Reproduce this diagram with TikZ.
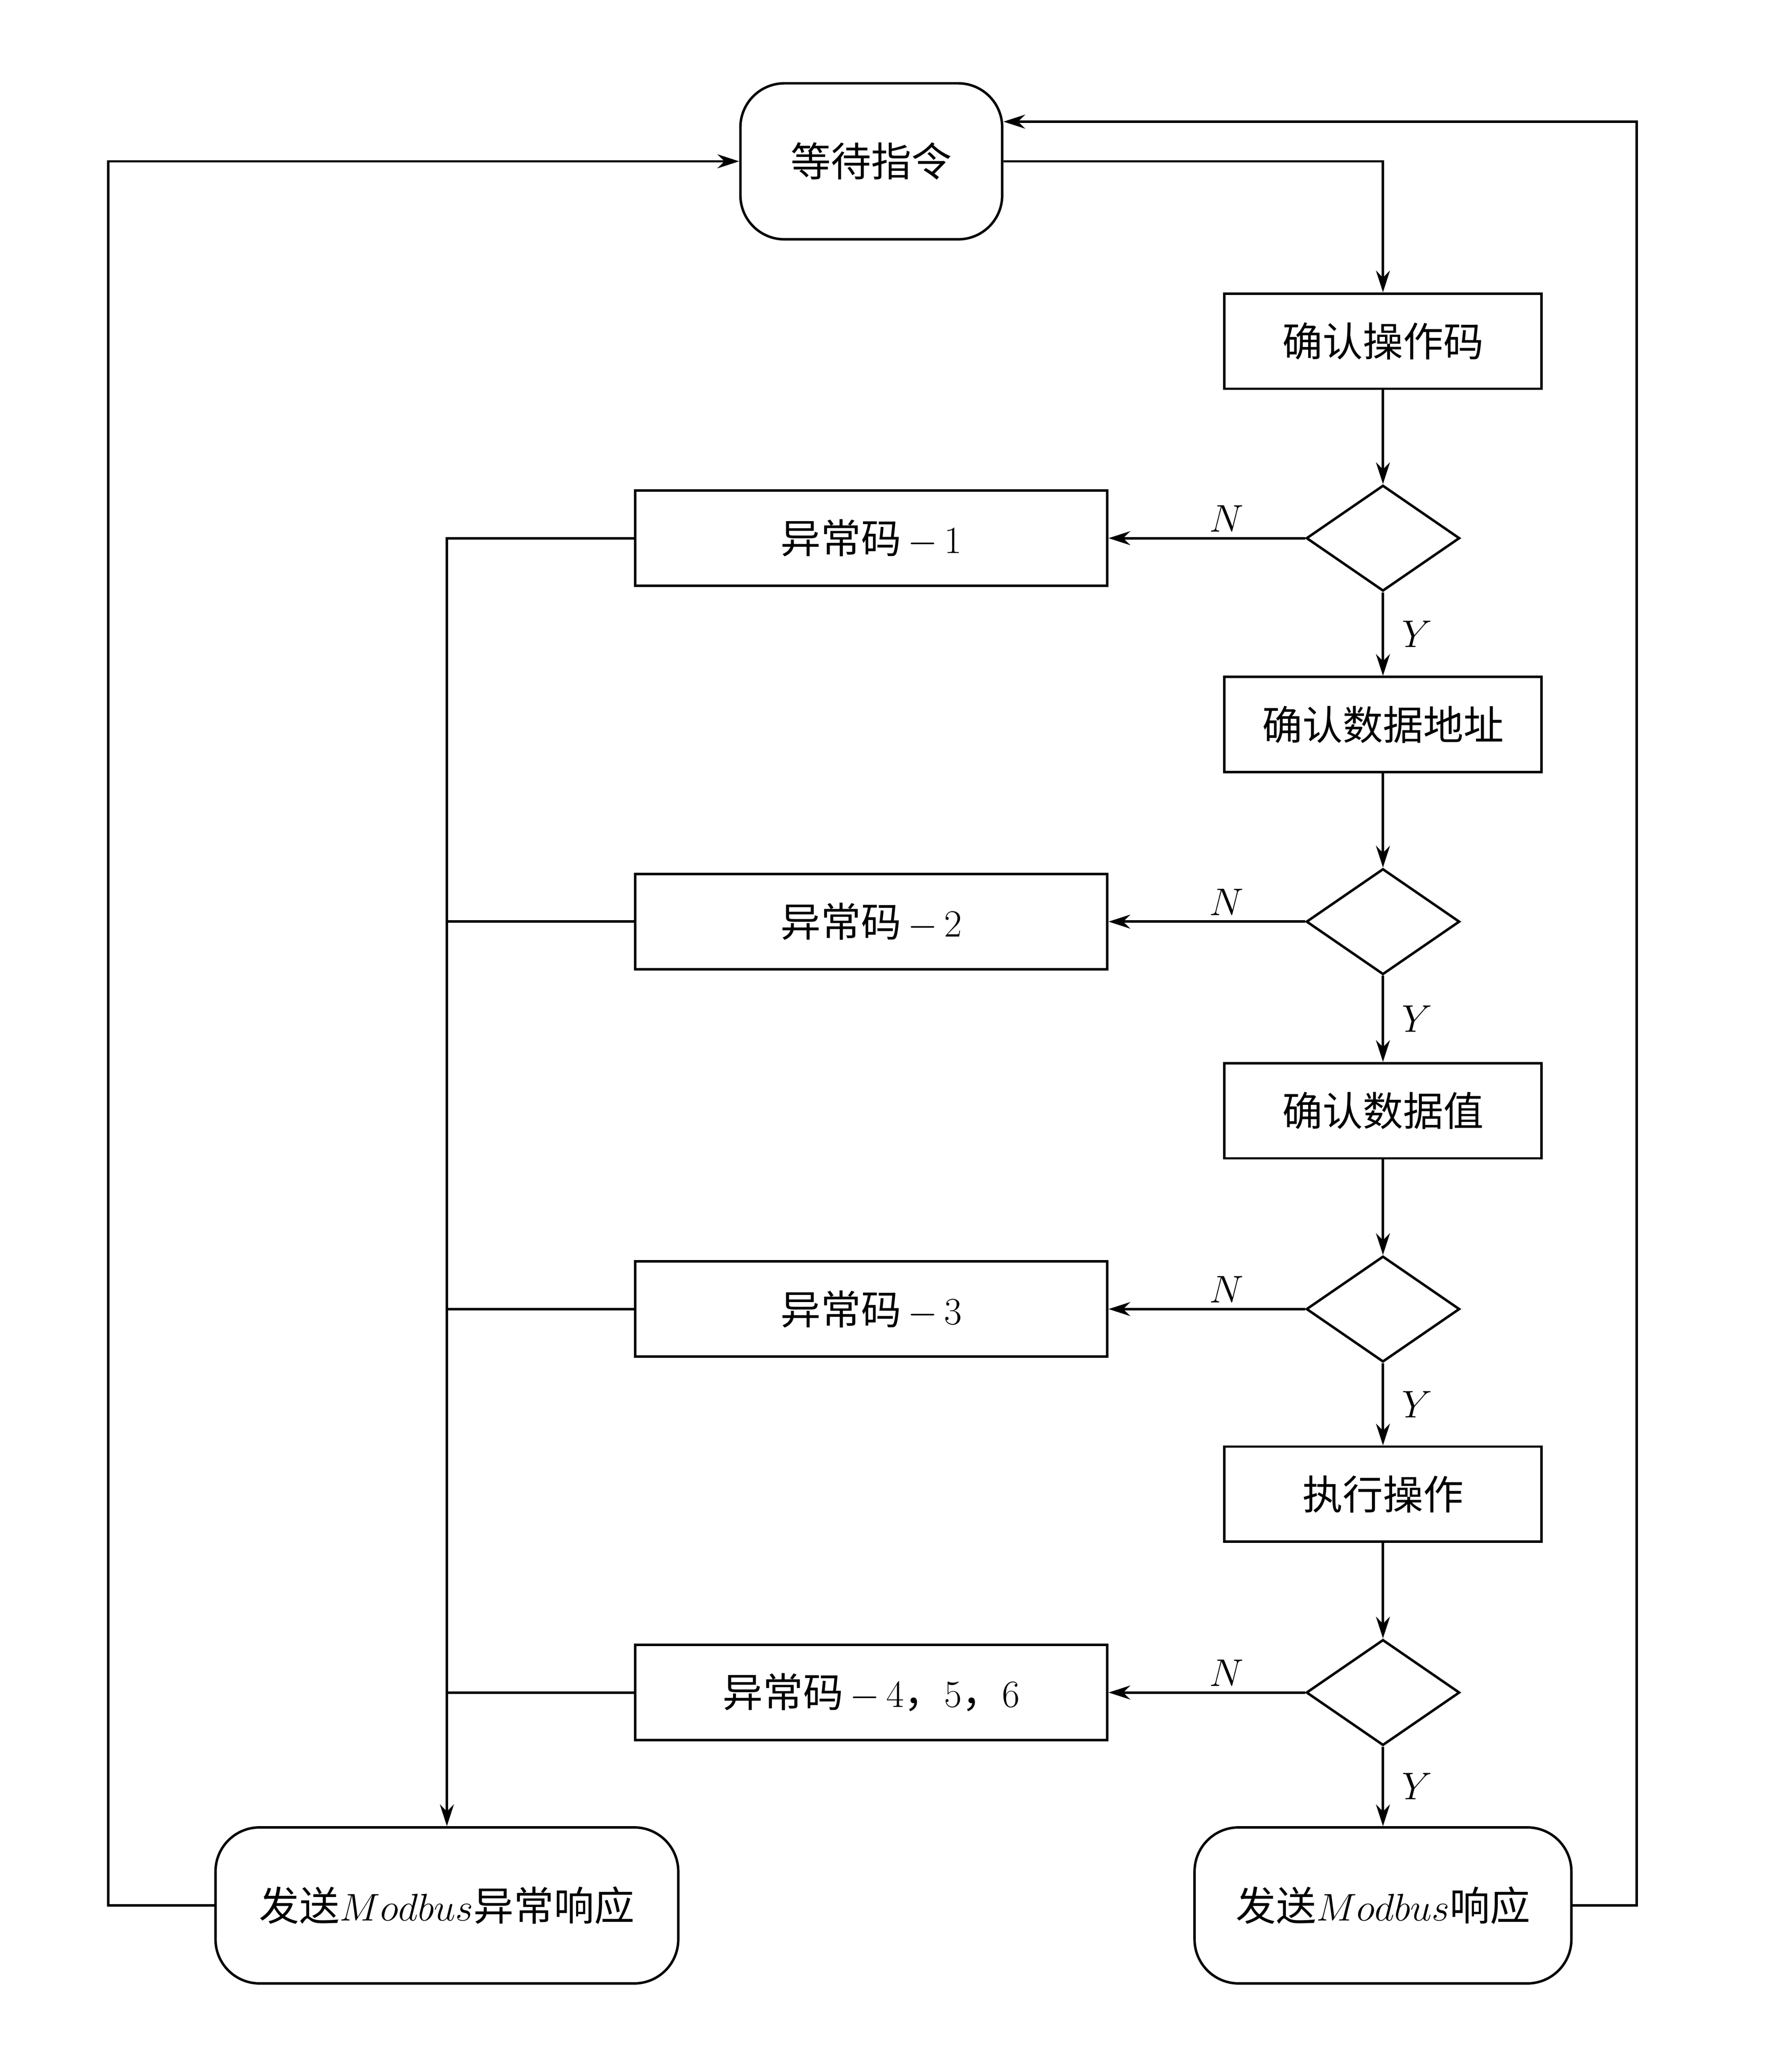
\documentclass[tikz,border=0pt]{standalone}
\usepackage{fontspec}
\newfontfamily\cjk{Noto Sans CJK SC}
\usetikzlibrary{shapes.geometric,arrows.meta}
\begin{document}
\begin{tikzpicture}[x=0.03cm,y=-0.03cm,line width=1.6pt,
  every node/.style={font=\cjk\fontsize{26}{30}\selectfont},
  proc/.style={draw,rectangle,minimum width=7.2cm,minimum height=2.16cm,inner sep=0pt},
  err/.style={draw,rectangle,minimum width=10.71cm,minimum height=2.16cm,inner sep=0pt},
  term/.style={draw,rectangle,rounded corners=1cm,minimum height=3.54cm,inner sep=0pt},
  dec/.style={draw,diamond,minimum width=3.48cm,minimum height=2.4cm,inner sep=0pt,aspect=1.45},
  arr/.style={-{Stealth[length=14pt,width=9pt]}},
  lab/.style={font=\fontsize{27}{30}\selectfont}]
\useasboundingbox (0,0) rectangle (1343,1567);
\node[term,minimum width=5.94cm] (wait) at (659,122) {等待指令};
\node[proc] (op) at (1046,258) {确认操作码};
\node[dec] (d1) at (1046,407) {};
\node[err] (e1) at (659,407) {异常码$\,-\,1$};
\node[proc] (addr) at (1046,548) {确认数据地址};
\node[dec] (d2) at (1046,697) {};
\node[err] (e2) at (659,697) {异常码$\,-\,2$};
\node[proc] (val) at (1046,840) {确认数据值};
\node[dec] (d3) at (1046,990) {};
\node[err] (e3) at (659,990) {异常码$\,-\,3$};
\node[proc] (exe) at (1046,1130) {执行操作};
\node[dec] (d4) at (1046,1280) {};
\node[err] (e4) at (659,1280) {异常码$\,-\,4$，$5$，$6$};
\node[term,minimum width=10.5cm] (serr) at (338,1441) {发送$Modbus$异常响应};
\node[term,minimum width=8.55cm] (sok) at (1046,1441) {发送$Modbus$响应};
\draw[arr] (wait.east) -| (op.north);
\draw[arr] (op) -- (d1);
\draw[arr] (d1) -- node[right,lab,xshift=8pt]{$Y$} (addr);
\draw[arr] (addr) -- (d2);
\draw[arr] (d2) -- node[right,lab,xshift=8pt]{$Y$} (val);
\draw[arr] (val) -- (d3);
\draw[arr] (d3) -- node[right,lab,xshift=8pt]{$Y$} (exe);
\draw[arr] (exe) -- (d4);
\draw[arr] (d4) -- node[right,lab,xshift=8pt]{$Y$} (sok);
\foreach \d/\e in {d1/e1,d2/e2,d3/e3,d4/e4}
  \draw[arr] (\d.west) -- node[above,lab,pos=0.4]{$N$} (\e.east);
\draw[arr] (e1.west) -| (serr.north);
\draw (e2.west) -- (338,697);
\draw (e3.west) -- (338,990);
\draw (e4.west) -- (338,1280);
\draw[arr] (serr.west) -- (82,1441) |- (wait.west);
\draw[arr] (sok.east) -- (1238,1441) |- ([yshift=0.9cm]wait.east);
\end{tikzpicture}
\end{document}
